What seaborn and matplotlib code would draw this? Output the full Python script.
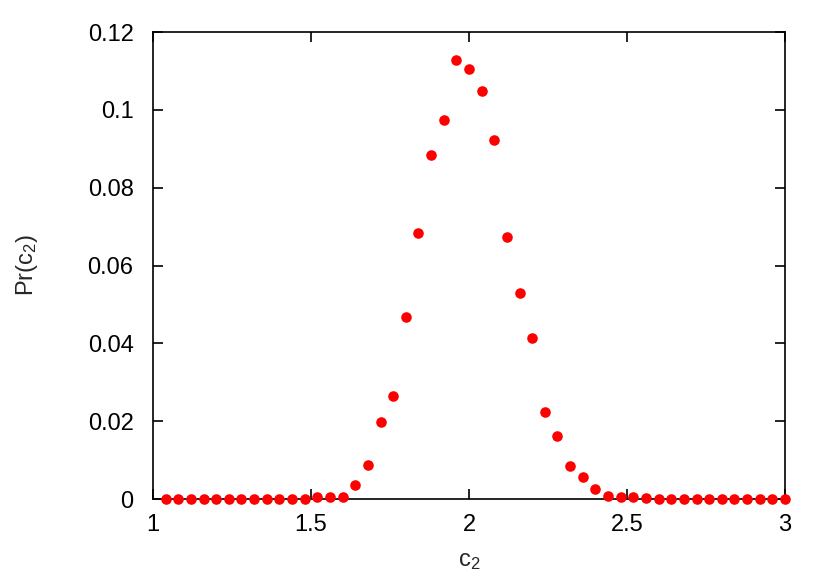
import numpy as np
import pandas as pd
import matplotlib
matplotlib.use("Agg")
import matplotlib.pyplot as plt
import seaborn as sns

# данные
c2 = [1.04, 1.08, 1.12, 1.16, 1.20, 1.24, 1.28, 1.32, 1.36, 1.40,
      1.44, 1.48, 1.52, 1.56, 1.60, 1.64, 1.68, 1.72, 1.76, 1.80,
      1.84, 1.88, 1.92, 1.96, 2.00, 2.04, 2.08, 2.12, 2.16, 2.20,
      2.24, 2.28, 2.32, 2.36, 2.40, 2.44, 2.48, 2.52, 2.56, 2.60,
      2.64, 2.68, 2.72, 2.76, 2.80, 2.84, 2.88, 2.92, 2.96, 3.00]
pr = [0.0, 0.0, 0.0, 0.0, 0.0, 0.0, 0.0, 0.0, 0.0, 0.0,
      0.0, 0.0, 0.0004, 0.0005, 0.0006, 0.0036, 0.0087, 0.0198, 0.0265, 0.0468,
      0.0683, 0.0884, 0.0974, 0.1128, 0.1106, 0.1048, 0.0922, 0.0672, 0.0529, 0.0414,
      0.0223, 0.0162, 0.0086, 0.0057, 0.0026, 0.0009, 0.0006, 0.0005, 0.0003, 0.0,
      0.0, 0.0, 0.0, 0.0, 0.0, 0.0, 0.0, 0.0, 0.0, 0.0]

xticks = [1, 1.5, 2, 2.5, 3]
xtick_labels = ["1", "1.5", "2", "2.5", "3"]
yticks = [0, 0.02, 0.04, 0.06, 0.08, 0.1, 0.12]
ytick_labels = ["0", "0.02", "0.04", "0.06", "0.08", "0.1", "0.12"]

df = pd.DataFrame({"c2": c2, "pr": pr})

sns.set_style("ticks")
plt.rcParams["font.family"] = ["Liberation Sans", "DejaVu Sans"]
plt.rcParams["mathtext.default"] = "regular"

fig = plt.figure(figsize=(8.3, 5.81), dpi=100)
ax = fig.add_axes([0.1843, 0.1411, 0.7615, 0.8038])

sns.scatterplot(data=df, x="c2", y="pr", ax=ax, color="#ff0000",
                s=58, linewidth=0, clip_on=False, zorder=5, legend=False)

ax.set_xlim(1, 3)
ax.set_ylim(0, 0.12)
ax.set_xticks(xticks)
ax.set_xticklabels(xtick_labels)
ax.set_yticks(yticks)
ax.set_yticklabels(ytick_labels)
ax.tick_params(direction="in", length=7, width=1.2, top=True, right=True,
               labelsize=17, colors="black")
ax.tick_params(axis="y", pad=14)
ax.tick_params(axis="x", pad=11)
for sp in ax.spines.values():
    sp.set_visible(True)
    sp.set_linewidth(1.2)
    sp.set_color("black")

ax.set_xlabel("c$_2$", fontsize=17, labelpad=10)
ax.set_ylabel("Pr(c$_2$)", fontsize=17, labelpad=34)

fig.savefig("out.png", dpi=100)
